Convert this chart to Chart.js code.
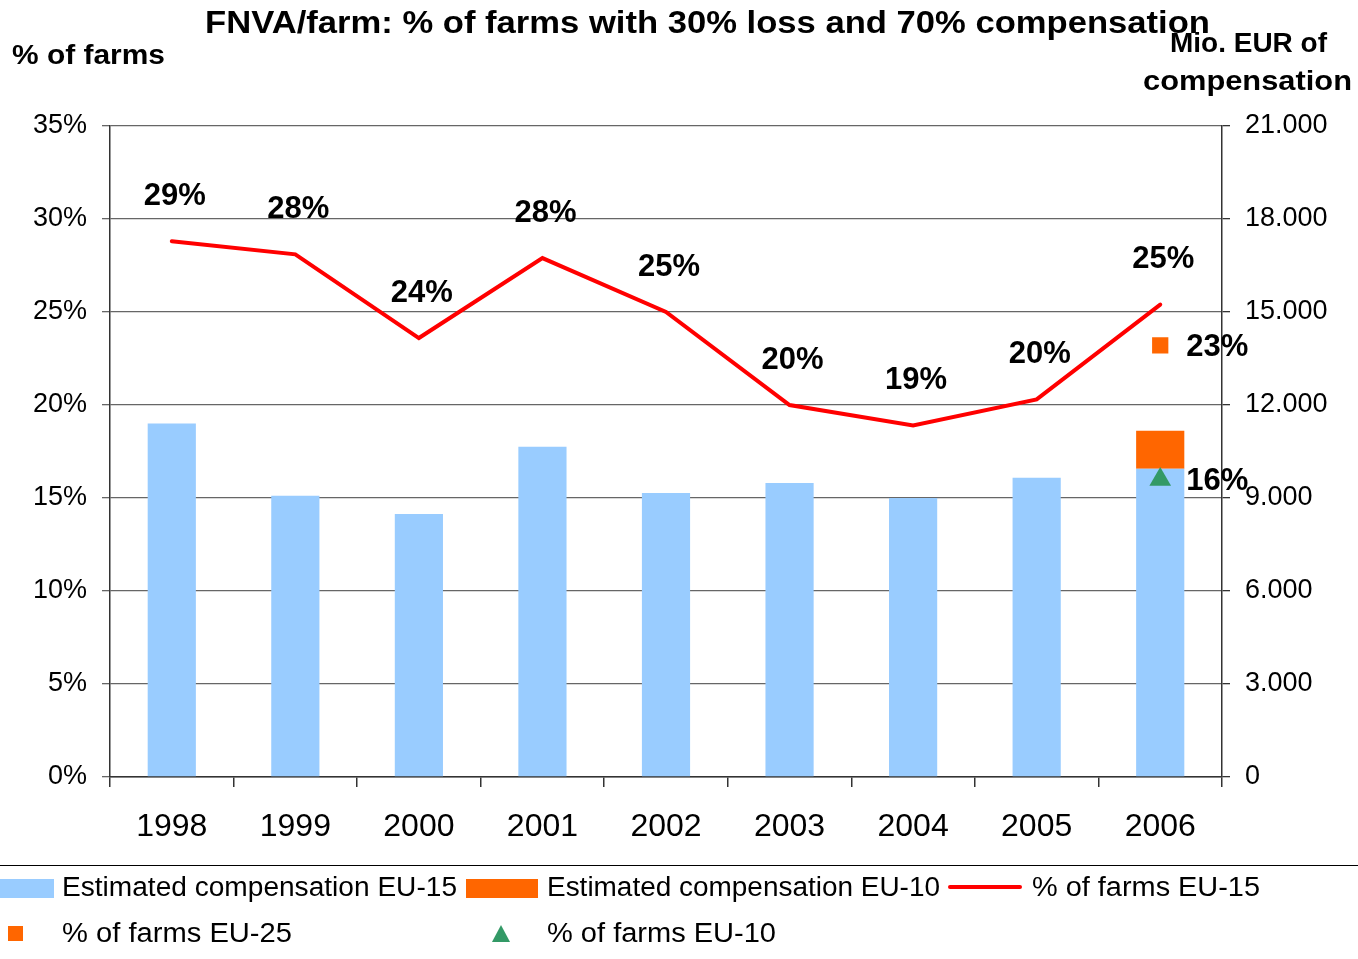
<!DOCTYPE html>
<html>
<head>
<meta charset="utf-8">
<script src="https://cdn.jsdelivr.net/npm/chart.js@4/dist/chart.umd.min.js"></script>
<style>
  html, body { margin: 0; padding: 0; background: #fff; }
  #wrap { position: relative; width: 1358px; height: 959px; overflow: hidden; font-family: "Liberation Sans", Arial, sans-serif; color: #000; }
  #c { position: absolute; left: 0; top: 0; }
  .t { position: absolute; white-space: nowrap; line-height: 1; transform-origin: 0 0; }
  .sep { position: absolute; left: 0; top: 865px; width: 1358px; height: 0; border-top: 1.5px solid #000; }
  .sw { position: absolute; }
</style>
</head>
<body>
<div id="wrap">
  <canvas id="c" width="1358" height="959"></canvas>
  <div class="sep"></div>
  <div class="sw" style="left:0;top:879px;width:54px;height:19px;background:#99CCFF"></div>
  <div class="sw" style="left:466px;top:879px;width:72px;height:19px;background:#FF6600"></div>
  <div class="sw" style="left:948px;top:885px;width:74px;height:4px;background:#FF0000;border-radius:2px"></div>
  <div class="sw" style="left:8px;top:926px;width:15px;height:15px;background:#FF6600"></div>
  <div class="sw" style="left:492px;top:925px;width:0;height:0;border-left:9.5px solid transparent;border-right:9.5px solid transparent;border-bottom:17px solid #339966"></div>
</div>
<script>
// ---- data ----
const years = ['1998', '1999', '2000', '2001', '2002', '2003', '2004', '2005', '2006'];
const compEU15 = [11400, 9070, 8480, 10650, 9160, 9480, 9000, 9650, 9940];
const compEU10 = [null, null, null, null, null, null, null, null, 1230];
const farmsEU15 = [28.8, 28.1, 23.6, 27.9, 25.0, 20.0, 18.9, 20.3, 25.4];
const farmsEU25 = [null, null, null, null, null, null, null, null, 23.2];
const farmsEU10 = [null, null, null, null, null, null, null, null, 16.0];
const leftTicks = { min: 0, max: 35, step: 5 };
const rightTicks = { min: 0, max: 21000, step: 3000 };

const texts = [
  { s: 'FNVA/farm: % of farms with 30% loss and 70% compensation', x: 205, y: 22, w: 1005, f: 'bold 31px' },
  { s: '% of farms', x: 12, y: 55, w: 153, f: 'bold 27px' },
  { s: 'Mio. EUR of', x: 1170, y: 43, w: 157, f: 'bold 27px' },
  { s: 'compensation', x: 1143, y: 81, w: 209, f: 'bold 27px' },
  { s: 'Estimated compensation EU-15', x: 62, y: 887, w: 395, f: '27px' },
  { s: 'Estimated compensation EU-10', x: 547, y: 887, w: 393, f: '27px' },
  { s: '% of farms EU-15', x: 1032, y: 887, w: 228, f: '27px' },
  { s: '% of farms EU-25', x: 62, y: 933, w: 230, f: '27px' },
  { s: '% of farms EU-10', x: 547, y: 933, w: 229, f: '27px' }
];

const FONT = '"Liberation Sans", Arial, sans-serif';
const wrap = document.getElementById('wrap');
texts.forEach(t => {
  const d = document.createElement('div');
  d.className = 't';
  d.textContent = t.s;
  d.style.font = t.f + ' ' + FONT;
  d.style.lineHeight = '1';
  const fs = parseFloat(t.f.match(/(\d+)px/)[1]);
  d.style.left = t.x + 'px';
  d.style.top = (t.y - 0.49 * fs) + 'px';
  wrap.appendChild(d);
  const w = d.getBoundingClientRect().width;
  d.style.transform = 'scaleX(' + (t.w / w) + ')';
});

const fmtThousands = v => String(v).replace(/\B(?=(\d{3})+(?!\d))/g, '.');

const labelPlugin = {
  id: 'pctLabels',
  afterDatasetsDraw(chart) {
    const ctx = chart.ctx;
    ctx.save();
    ctx.fillStyle = '#000';
    ctx.font = 'bold 31px ' + FONT;
    const drawSet = (idx, mode) => {
      const meta = chart.getDatasetMeta(idx);
      const data = chart.data.datasets[idx].data;
      meta.data.forEach((el, i) => {
        const v = data[i];
        if (v === null || v === undefined) return;
        const txt = Math.round(v) + '%';
        ctx.textBaseline = 'middle';
        if (mode === 'above') {
          ctx.textAlign = 'center';
          ctx.fillText(txt, el.x + 3, el.y - 45);
        } else {
          ctx.textAlign = 'left';
          ctx.fillText(txt, el.x + 26, el.y + 2);
        }
      });
    };
    drawSet(2, 'above');
    drawSet(3, 'right');
    drawSet(4, 'right');
    ctx.restore();
  }
};

new Chart(document.getElementById('c'), {
  data: {
    labels: years,
    datasets: [
      { type: 'bar', label: 'Estimated compensation EU-15', data: compEU15, backgroundColor: '#99CCFF', yAxisID: 'y2', order: 3, stack: 's' },
      { type: 'bar', label: 'Estimated compensation EU-10', data: compEU10, backgroundColor: '#FF6600', yAxisID: 'y2', order: 3, stack: 's' },
      { type: 'line', label: '% of farms EU-15', data: farmsEU15, borderColor: '#FF0000', borderWidth: 4, pointRadius: 0, tension: 0, yAxisID: 'y', order: 1, borderCapStyle: 'round' },
      { type: 'line', label: '% of farms EU-25', data: farmsEU25, showLine: false, pointStyle: 'rect', pointRadius: 11.5, backgroundColor: '#FF6600', borderColor: '#FF6600', borderWidth: 0, yAxisID: 'y', order: 0 },
      { type: 'line', label: '% of farms EU-10', data: farmsEU10, showLine: false, pointStyle: 'triangle', pointRadius: 12.5, backgroundColor: '#339966', borderColor: '#339966', borderWidth: 0, yAxisID: 'y', order: 0 }
    ]
  },
  options: {
    responsive: false,
    animation: false,
    events: [],
    layout: { padding: { top: 126, left: 0, right: 0, bottom: 0 } },
    plugins: { legend: { display: false }, title: { display: false }, tooltip: { enabled: false } },
    datasets: { bar: { categoryPercentage: 1, barPercentage: 0.39 } },
    scales: {
      x: {
        stacked: true,
        offset: true,
        grid: { offset: true, drawOnChartArea: false, drawTicks: true, tickLength: 10, color: '#333', lineWidth: 1.5 },
        border: { display: true, color: '#333', width: 1.5 },
        ticks: { color: '#000', font: { family: FONT, size: 32 }, padding: 21, maxRotation: 0 },
        afterFit(s) { s.height = 182; }
      },
      y: {
        position: 'left',
        min: leftTicks.min, max: leftTicks.max,
        grid: { color: '#666', lineWidth: 1.3, tickLength: 8, drawTicks: true },
        border: { display: true, color: '#333', width: 1.5 },
        ticks: { stepSize: leftTicks.step, color: '#000', font: { family: FONT, size: 27 }, padding: 15, callback: v => v + '%' },
        afterFit(s) { s.width = 110; }
      },
      y2: {
        position: 'right',
        stacked: true,
        min: rightTicks.min, max: rightTicks.max,
        grid: { drawOnChartArea: false, tickLength: 8, color: '#333', lineWidth: 1.3 },
        border: { display: true, color: '#333', width: 1.5 },
        ticks: { stepSize: rightTicks.step, color: '#000', font: { family: FONT, size: 27 }, padding: 15, callback: v => fmtThousands(v) },
        afterFit(s) { s.width = 136; }
      }
    }
  },
  plugins: [labelPlugin]
});
</script>
</body>
</html>
